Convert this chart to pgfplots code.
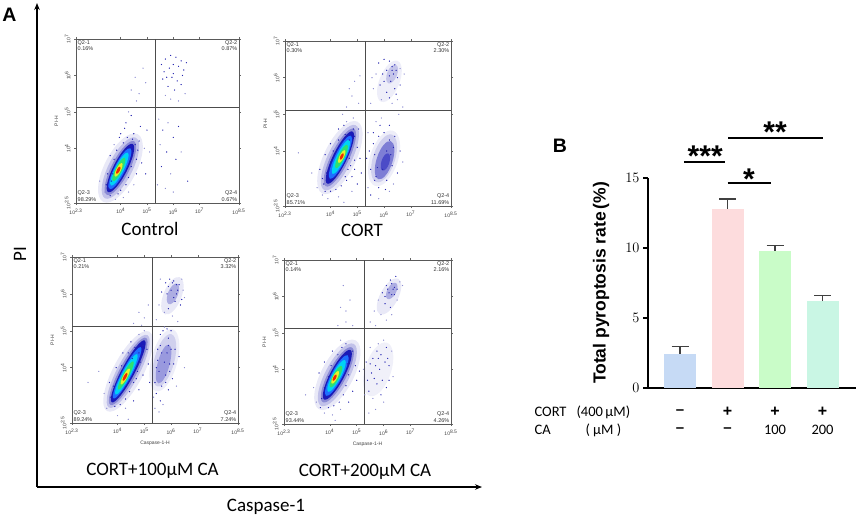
\documentclass[border=0pt]{standalone}
\usepackage{fontspec}
\setmainfont{Liberation Sans}
\newfontfamily\calfont{Carlito}
\usepackage{pgfplots}
\pgfplotsset{compat=1.18}
\usetikzlibrary{arrows.meta}

\definecolor{jblue0}{HTML}{2A2AC8}
\definecolor{jblue}{HTML}{1A1AB8}
\definecolor{jlb}{HTML}{1E6EFF}
\definecolor{jcyan}{HTML}{00D2F5}
\definecolor{jgreen}{HTML}{2EE070}
\definecolor{jyellow}{HTML}{E8F02A}
\definecolor{jred}{HTML}{F02800}
\definecolor{dotblue}{HTML}{2424B0}
\definecolor{dotlight}{HTML}{8C8CD2}
\definecolor{bar1}{HTML}{C6DAF5}
\definecolor{bar2}{HTML}{FDDCDD}
\definecolor{bar3}{HTML}{C9FCC8}
\definecolor{bar4}{HTML}{C9F6E4}
\definecolor{errgray}{HTML}{404040}

\newcommand{\blob}[7]{\addplot[#6, only marks, mark=*, mark size=#4pt, mark options={#6, draw opacity=0, fill opacity=#7, rotate=#3, yscale=#5/#4}] coordinates {(#1,#2)};}
\tikzset{qlab/.style={font=\fontsize{5.5}{6.3}\selectfont, text=black!80, inner sep=1.5pt}}
\newcommand{\quads}[4]{%
\node[qlab, anchor=north west, align=left] at (rel axis cs:0,1) {Q2-1\\#1};
\node[qlab, anchor=north east, align=right] at (rel axis cs:1,1) {Q2-2\\#2};
\node[qlab, anchor=south west, align=left] at (rel axis cs:0,0) {Q2-3\\#3};
\node[qlab, anchor=south east, align=right] at (rel axis cs:1,0) {Q2-4\\#4};}
\newcommand{\quadlines}{%
\addplot[draw=black!70, line width=0.7pt] coordinates {(5.3,2.5) (5.3,7)};
\addplot[draw=black!70, line width=0.7pt] coordinates {(2.3,5.12) (8.5,5.12)};}

\pgfplotsset{
 flow/.style={scale only axis, anchor=south west,
  xmin=2.3, xmax=8.5, ymin=2.5, ymax=7,
  axis line style={draw=black!65, line width=0.6pt},
  xtick={2.3,4,5,6,7,8.5},
  xticklabels={10\textsuperscript{2.3},10\textsuperscript{4},10\textsuperscript{5},10\textsuperscript{6},10\textsuperscript{7},10\textsuperscript{8.5}},
  ytick={2.5,4,5,6,7},
  yticklabels={10\textsuperscript{2.5},10\textsuperscript{4},10\textsuperscript{5},10\textsuperscript{6},10\textsuperscript{7}},
  tick align=outside, major tick length=2pt,
  tick style={black!60, line width=0.5pt},
  ticklabel style={font=\fontsize{5}{5}\selectfont, text=black!75},
  yticklabel style={rotate=90, anchor=south},
  ylabel={PI-H}, ylabel style={font=\fontsize{5}{5}\selectfont, text=black!75},
  xlabel style={font=\fontsize{5}{5}\selectfont, text=black!75},
 },
 dots/.style={dotblue, only marks, mark=*, mark size=0.5pt, mark options={dotblue, line width=0.15pt}},
 ldots/.style={dotlight, only marks, mark=*, mark size=0.5pt, mark options={dotlight, line width=0.15pt}},
 errb/.style={error bars/.cd, y dir=plus, y explicit, error mark=-,
  error bar style={line width=1.1pt, draw=errgray},
  error mark options={rotate=90, errgray, line width=1.1pt, mark size=8.5pt}},
}

\begin{document}
\begin{tikzpicture}
\path[use as bounding box] (0,0) rectangle (858pt,-516pt);

% ---------- outer frame of panel A
\begin{axis}[at={(37pt,-487pt)}, anchor=south west, scale only axis,
  width=445pt, height=484pt, xmin=0, xmax=1, ymin=0, ymax=1,
  axis lines=left, xtick=\empty, ytick=\empty,
  axis line style={line width=1.3pt, black, -{Stealth[length=7pt,width=5.5pt]}}]
\end{axis}

% ---------- Control
\begin{axis}[flow, at={(76pt,-203pt)}, width=163pt, height=164pt]
\blob{3.99}{3.46}{63}{38}{16}{dotblue}{0.1}
\blob{3.99}{3.46}{63}{34}{12}{dotblue}{0.2}
\blob{3.99}{3.46}{63}{30}{9}{dotblue}{0.35}
\blob{3.99}{3.46}{63}{27}{7}{jblue}{1}
\blob{3.97}{3.44}{63}{23}{5.5}{jlb}{1}
\blob{3.95}{3.43}{63}{18.5}{4.3}{jcyan}{1}
\blob{3.93}{3.42}{63}{13}{3.3}{jgreen}{1}
\blob{3.92}{3.41}{63}{7.5}{2.3}{jyellow}{1}
\blob{3.91}{3.40}{63}{4}{1.5}{jred}{1}
\addplot[dots] coordinates {(5.55,6.3)(5.7,6.45)(5.9,6.55)(6.1,6.5)(6.3,6.4)(6.5,6.35)(5.65,6.1)(5.85,6.2)(6.0,6.3)(6.2,6.25)(6.4,6.15)(5.6,5.9)(5.95,5.95)(6.15,5.85)(5.8,5.7)(6.05,5.6)(6.3,5.75)(6.0,6.05)(5.75,5.95)(6.35,6.0)
 (4.0,4.4)(4.2,4.7)(4.5,4.4)(4.7,4.2)(4.8,3.6)(4.6,3.3)(3.6,3.8)(3.5,3.3)(4.75,4.6)(5.0,4.5)(4.95,3.3)(4.4,4.9)
 (5.6,4.5)(6.0,4.3)(5.75,3.9)(6.1,3.7)(5.55,3.5)(6.55,3.1)(6.2,4.6)
 (3.55,2.9)(3.65,3.1)(3.45,3.0)(3.7,3.3)(3.75,3.7)(3.85,3.95)(4.1,4.15)(4.25,4.3)(4.35,4.05)(4.45,3.8)(4.4,3.5)(4.3,3.2)(4.2,3.0)(4.0,2.85)(3.9,2.75)(3.6,2.7)(4.55,4.1)(4.6,3.7)(4.65,3.95)(4.15,4.55)(3.95,4.3)(4.45,4.25)};
\addplot[ldots] coordinates {(5.7,5.45)(5.9,5.35)(6.2,5.3)(6.45,5.5)(4.4,5.6)(4.55,5.95)(4.7,5.5)(4.85,6.2)(4.95,5.8)(4.6,5.3)
 (3.4,2.8)(3.75,4.1)(4.3,5.0)(4.9,4.0)(5.1,3.9)(4.5,3.0)(4.3,2.8)(4.1,2.65)(3.2,3.1)(3.8,2.6)
 (5.45,4.8)(5.8,4.7)(5.5,4.1)(5.9,3.3)(6.3,3.9)(5.7,2.9)(5.4,3.0)(6.0,2.8)};
\quadlines
\quads{0.16\%}{0.87\%}{98.29\%}{0.67\%}
\end{axis}

% ---------- CORT
\begin{axis}[flow, at={(285pt,-206pt)}, width=166pt, height=165pt]
\blob{4.35}{3.82}{64}{40}{16}{dotblue}{0.1}
\blob{4.35}{3.82}{64}{36}{12}{dotblue}{0.2}
\blob{4.35}{3.82}{64}{32}{9}{dotblue}{0.35}
\blob{4.35}{3.82}{64}{29}{7}{jblue}{1}
\blob{4.37}{3.83}{64}{24}{5.5}{jlb}{1}
\blob{4.39}{3.84}{64}{19}{4.3}{jcyan}{1}
\blob{4.41}{3.85}{64}{13}{3.2}{jgreen}{1}
\blob{4.42}{3.85}{64}{7}{2.2}{jyellow}{1}
\blob{4.42}{3.85}{64}{3.5}{1.4}{jred}{1}
\blob{6.0}{3.8}{72}{29}{14}{dotblue}{0.08}
\blob{6.0}{3.8}{72}{25}{11}{dotblue}{0.15}
\blob{6.02}{3.75}{72}{20}{8}{jblue}{0.45}
\blob{6.05}{3.7}{72}{9}{4}{jblue}{0.5}
\blob{6.2}{5.9}{68}{22}{10}{dotblue}{0.08}
\blob{6.3}{6.1}{68}{10}{5}{dotblue}{0.2}
\addplot[dots] coordinates {(3.6,3.5)(3.8,3.9)(4.0,4.2)(4.3,4.6)(4.9,4.4)(5.0,4.1)(5.1,3.8)(5.15,3.4)(5.0,3.1)(4.6,3.2)(4.75,3.6)(4.9,3.75)(5.05,4.6)
 (5.5,3.5)(5.45,4.0)(5.6,4.5)(5.5,2.8)(6.5,3.4)(6.6,4.0)(6.4,4.4)(6.2,4.7)(5.35,3.8)(5.65,3.2)(5.6,4.2)
 (5.8,6.4)(6.0,6.5)(6.2,6.45)(6.4,6.35)(6.3,6.2)(6.35,6.1)(6.45,6.2)(6.2,6.05)(6.0,5.9)(6.1,5.6)(6.4,5.7)(6.6,5.8)(5.85,5.8)
 (3.75,3.1)(3.85,3.4)(3.7,3.25)(4.0,3.7)(4.1,4.0)(4.3,4.3)(4.55,4.45)(4.7,4.3)(4.75,4.05)(4.7,3.8)(4.65,3.5)(4.55,3.3)(4.4,3.05)(4.2,2.95)(4.0,2.9)(3.8,2.9)(4.85,4.6)(4.5,4.7)(4.9,3.5)(4.8,3.3)
 (5.7,3.3)(5.8,3.0)(6.1,3.2)(6.3,3.6)(6.35,4.1)(6.2,4.3)(6.0,4.5)(5.8,4.4)(5.65,3.9)(5.75,3.55)(6.1,4.0)(5.95,3.5)(6.25,3.9)(5.85,4.7)(6.05,2.95)
 (6.3,6.3)(6.5,6.0)(6.1,6.2)(5.95,6.1)(6.25,5.9)(6.45,5.55)(6.2,5.45)};
\addplot[ldots] coordinates {(3.5,3.0)(3.7,2.8)(3.9,2.7)(4.3,2.75)(4.6,4.8)(4.85,4.9)(4.8,2.9)(2.8,3.95)(3.3,3.4)(4.5,2.6)(4.45,5.0)
 (5.4,3.0)(5.7,4.8)(5.8,2.7)(6.2,2.9)(5.9,4.9)(5.4,4.5)(6.7,3.7)(6.35,3.1)
 (5.5,5.3)(5.6,5.7)(5.7,6.1)(6.6,6.25)(6.75,6.1)(6.5,5.4)(6.3,5.3)(5.9,5.4)(6.7,5.2)(5.55,6.0)(6.55,5.0)
 (4.6,5.2)(4.8,5.5)(4.9,5.9)(5.05,5.3)(4.7,5.7)(5.1,6.05)};
\quadlines
\quads{0.30\%}{2.30\%}{85.71\%}{11.69\%}
\end{axis}

% ---------- CORT+100
\begin{axis}[flow, at={(72pt,-423pt)}, width=166pt, height=166pt, xlabel={Caspase-1-H}]
\blob{4.4}{3.9}{62}{45}{15}{dotblue}{0.1}
\blob{4.4}{3.9}{62}{41}{11}{dotblue}{0.2}
\blob{4.4}{3.9}{62}{38}{8.5}{dotblue}{0.35}
\blob{4.4}{3.9}{62}{35}{6.5}{jblue}{1}
\blob{4.36}{3.86}{62}{29}{5}{jlb}{1}
\blob{4.33}{3.82}{62}{23}{4}{jcyan}{1}
\blob{4.31}{3.79}{62}{16}{3}{jgreen}{1}
\blob{4.29}{3.76}{62}{9}{2.1}{jyellow}{1}
\blob{4.28}{3.75}{62}{4.5}{1.4}{jred}{1}
\blob{5.75}{4.2}{75}{32}{13}{dotblue}{0.08}
\blob{5.75}{4.2}{75}{27}{10}{dotblue}{0.15}
\blob{5.72}{4.1}{75}{20}{6}{jblue}{0.3}
\blob{6.05}{5.95}{68}{20}{9}{dotblue}{0.1}
\blob{6.07}{6.0}{68}{11}{5}{dotblue}{0.3}
\addplot[dots] coordinates {(3.7,3.6)(3.95,4.0)(4.2,4.4)(4.5,4.7)(5.1,4.5)(5.15,4.1)(4.95,3.8)(4.8,3.4)(4.6,3.1)(4.7,3.7)(5.2,3.6)
 (5.4,3.6)(5.45,4.0)(5.5,4.5)(5.6,4.9)(5.9,4.8)(6.0,4.5)(6.1,4.1)(6.05,3.7)(5.9,3.4)(5.8,3.8)(5.65,4.4)(5.95,4.1)(6.3,4.3)
 (5.65,6.05)(5.8,6.3)(5.95,6.4)(6.1,6.35)(6.3,6.25)(6.2,6.0)(6.0,6.1)(6.15,5.8)(6.35,5.7)(5.9,5.6)
 (3.75,3.2)(3.85,3.5)(4.05,3.75)(4.15,4.05)(4.4,4.4)(4.65,4.55)(4.8,4.4)(4.85,4.15)(4.75,3.9)(4.6,3.6)(4.45,3.35)(4.3,3.15)(4.1,3.0)(3.9,2.95)(4.95,4.6)(4.55,4.25)
 (5.45,3.3)(5.55,3.9)(5.6,4.6)(5.7,5.0)(5.85,4.4)(5.95,3.9)(5.8,3.6)(5.65,3.5)(5.75,4.15)(5.9,4.6)(6.0,5.0)(5.5,4.2)(5.6,3.1)(6.15,4.5)(5.85,5.05)
 (5.9,6.2)(6.05,6.3)(6.25,6.1)(6.1,5.9)(5.85,6.0)(6.2,6.25)(6.4,5.85)};
\addplot[ldots] coordinates {(3.6,2.9)(3.5,3.3)(4.8,4.9)(5.0,5.0)(4.3,2.9)(4.0,2.7)(2.9,3.6)(3.3,3.9)(4.4,2.6)
 (5.35,3.2)(5.75,5.1)(5.7,3.0)(5.55,2.8)(6.2,3.5)(5.4,2.9)(6.5,4.0)
 (5.45,5.3)(5.55,5.7)(6.45,6.1)(6.05,5.4)(6.25,5.25)(5.75,5.5)(6.5,5.9)(5.6,6.4)(6.4,6.4)
 (4.6,5.2)(4.8,5.5)(5.0,5.35)(5.15,5.7)(4.9,5.15)};
\quadlines
\quads{0.21\%}{3.32\%}{89.24\%}{7.24\%}
\end{axis}

% ---------- CORT+200
\begin{axis}[flow, at={(284pt,-424pt)}, width=167pt, height=164pt, xlabel={Caspase-1-H}]
\blob{4.28}{3.85}{62}{39}{16}{dotblue}{0.1}
\blob{4.28}{3.85}{62}{35}{12}{dotblue}{0.2}
\blob{4.28}{3.85}{62}{31}{9}{dotblue}{0.35}
\blob{4.28}{3.85}{62}{28}{7}{jblue}{1}
\blob{4.26}{3.83}{62}{23}{5.5}{jlb}{1}
\blob{4.25}{3.82}{62}{18}{4.3}{jcyan}{1}
\blob{4.23}{3.8}{62}{12}{3.3}{jgreen}{1}
\blob{4.2}{3.78}{62}{7}{2.2}{jyellow}{1}
\blob{4.18}{3.77}{62}{3.5}{1.4}{jred}{1}
\blob{5.8}{4.0}{72}{28}{13}{dotblue}{0.07}
\blob{6.2}{6.0}{62}{20}{9}{dotblue}{0.1}
\blob{6.3}{6.15}{62}{9}{4.5}{dotblue}{0.3}
\addplot[dots] coordinates {(3.6,3.9)(3.8,4.2)(4.1,4.5)(4.6,4.7)(4.85,4.5)(4.95,4.1)(5.0,3.7)(4.85,3.4)(4.7,3.1)(5.1,3.95)
 (5.4,3.7)(5.35,4.2)(5.75,3.6)(5.85,4.0)(5.9,4.4)(6.1,3.5)(6.2,4.1)(5.6,4.3)(6.15,4.3)
 (5.95,6.1)(6.1,6.3)(6.25,6.45)(6.45,6.55)(6.35,6.2)(6.2,6.1)(6.4,6.05)(6.05,5.8)(6.25,5.7)
 (3.7,3.2)(3.8,3.5)(3.95,3.8)(4.05,4.1)(4.3,4.4)(4.55,4.4)(4.65,4.15)(4.7,3.85)(4.6,3.55)(4.5,3.3)(4.35,3.1)(4.15,3.0)(3.95,2.95)(3.65,2.95)(4.75,4.45)(4.45,4.6)
 (5.45,3.4)(5.55,3.9)(5.7,4.1)(5.65,3.75)(5.95,3.7)(6.05,4.2)(5.8,4.3)(5.5,4.15)(6.2,3.7)(5.9,3.3)(5.75,4.5)(6.1,4.6)
 (6.3,6.35)(6.15,6.2)(6.4,6.25)(6.05,6.0)(6.3,6.05)(6.5,6.2)};
\addplot[ldots] coordinates {(3.5,3.1)(3.4,3.5)(4.4,4.8)(4.4,2.9)(4.1,2.75)(3.8,2.8)(3.1,3.3)(4.6,5.3)(4.3,5.2)(4.2,2.6)
 (5.3,3.3)(5.5,4.6)(5.6,3.2)(6.0,4.8)(6.3,4.5)(5.7,2.9)(6.0,3.1)(5.45,2.8)(6.35,3.8)(5.8,4.7)(5.25,4.0)
 (5.5,5.3)(5.65,5.6)(5.8,5.9)(6.6,6.4)(5.9,5.5)(6.1,5.35)(5.7,5.2)(6.5,5.9)(6.7,6.3)(6.3,5.5)
 (4.4,5.7)(4.6,5.6)(4.75,5.9)(4.5,6.3)(4.85,5.2)};
\quadlines
\quads{0.14\%}{2.16\%}{93.44\%}{4.26\%}
\end{axis}

% ---------- Panel B bar chart
\begin{axis}[at={(648pt,-388pt)}, anchor=south west, scale only axis,
  width=208pt, height=210pt, xmin=-0.674, xmax=3.705, ymin=0, ymax=15,
  axis x line=bottom, axis y line=left,
  axis line style={line width=2.4pt, black, -},
  xtick=\empty, ytick={0,5,10,15}, tick align=outside, major tick length=5pt,
  ytick style={line width=2.2pt, black},
  yticklabel style={font=\bfseries\fontsize{15}{15}\selectfont},
  ylabel={Total pyroptosis rate\,(\%)},
  ylabel style={font=\bfseries\fontsize{17.5}{17.5}\selectfont, at={(axis description cs:-0.226,0.5)}, anchor=center},
  clip=false]
\addplot[ybar, bar width=32pt, bar shift=0pt, fill=bar1, draw=none, errb] coordinates {(0,2.45) +- (0,0.5)};
\addplot[ybar, bar width=32pt, bar shift=0pt, fill=bar2, draw=none, errb] coordinates {(1,12.8) +- (0,0.7)};
\addplot[ybar, bar width=32pt, bar shift=0pt, fill=bar3, draw=none, errb] coordinates {(2,9.8) +- (0,0.4)};
\addplot[ybar, bar width=32pt, bar shift=0pt, fill=bar4, draw=none, errb] coordinates {(3,6.2) +- (0,0.4)};
\addplot[black, line width=2.6pt] coordinates {(0.08,16.14) (0.95,16.14)};
\addplot[black, line width=2.6pt] coordinates {(1.0,14.64) (1.92,14.64)};
\addplot[black, line width=2.6pt] coordinates {(1.01,17.86) (3.0,17.86)};
\node[anchor=base, font=\bfseries\fontsize{30}{30}\selectfont] at (axis cs:0.53,15.79) {***};
\node[anchor=base, font=\bfseries\fontsize{30}{30}\selectfont] at (axis cs:1.45,14.21) {*};
\node[anchor=base, font=\bfseries\fontsize{30}{30}\selectfont] at (axis cs:2.0,17.57) {**};
\node[font=\bfseries\fontsize{15}{15}\selectfont] at (axis cs:0,-1.714) {–};
\node[font=\bfseries\fontsize{16}{16}\selectfont] at (axis cs:1,-1.714) {+};
\node[font=\bfseries\fontsize{16}{16}\selectfont] at (axis cs:2,-1.714) {+};
\node[font=\bfseries\fontsize{16}{16}\selectfont] at (axis cs:3,-1.714) {+};
\node[font=\bfseries\fontsize{15}{15}\selectfont] at (axis cs:0,-3.0) {–};
\node[font=\bfseries\fontsize{15}{15}\selectfont] at (axis cs:1,-3.0) {–};
\node[font=\calfont\fontsize{14.5}{14.5}\selectfont] at (axis cs:2,-3.0) {100};
\node[font=\calfont\fontsize{14.5}{14.5}\selectfont] at (axis cs:3,-3.0) {200};
\end{axis}

% ---------- texts
\node[font=\bfseries\fontsize{19.5}{19.5}\selectfont] at (9.5pt,-15pt) {A};
\node[font=\bfseries\fontsize{19.5}{19.5}\selectfont] at (560pt,-146pt) {B};
\node[font=\calfont\fontsize{19}{19}\selectfont, rotate=90] at (20pt,-254pt) {PI};
\node[font=\calfont\fontsize{19}{19}\selectfont, anchor=base] at (266pt,-511pt) {Caspase-1};
\node[font=\calfont\fontsize{19}{19}\selectfont, anchor=base] at (150pt,-235.5pt) {Control};
\node[font=\calfont\fontsize{19}{19}\selectfont, anchor=base] at (362pt,-236pt) {CORT};
\node[font=\calfont\fontsize{19}{19}\selectfont, anchor=base] at (152.5pt,-475pt) {CORT+100µM CA};
\node[font=\calfont\fontsize{19}{19}\selectfont, anchor=base] at (365pt,-476pt) {CORT+200µM CA};
\node[font=\calfont\fontsize{14.5}{14.5}\selectfont, anchor=west] at (531pt,-412pt) {CORT};
\node[font=\calfont\fontsize{14.5}{14.5}\selectfont, anchor=west] at (573pt,-412pt) {(400\,µM)};
\node[font=\calfont\fontsize{14.5}{14.5}\selectfont, anchor=west] at (531pt,-430pt) {CA};
\node[font=\calfont\fontsize{14.5}{14.5}\selectfont, anchor=west] at (582pt,-430pt) {( µM )};
\end{tikzpicture}
\end{document}
